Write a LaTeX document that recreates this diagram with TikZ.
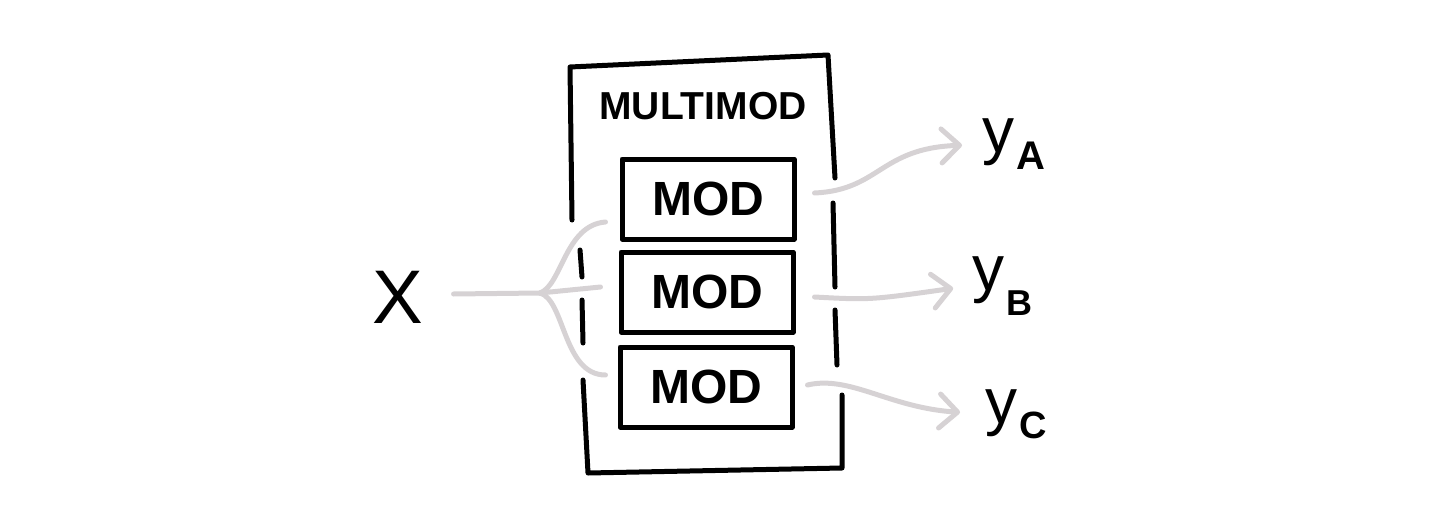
\documentclass[tikz,border=0pt]{standalone}
\usepackage{fontspec}
\setmainfont{Liberation Sans}
\usetikzlibrary{arrows.meta,calc}
\definecolor{wiregray}{RGB}{214,210,212}
\tikzset{
  ink/.style={line width=5pt, line cap=round, line join=round, draw=black},
  wire/.style={line width=5pt, line cap=round, draw=wiregray},
  warrow/.style={wire, -{Straight Barb[length=18pt,width=34pt,round]}},
  modbox/.style={ink, minimum width=172pt, minimum height=80pt, inner sep=0pt,
    font=\bfseries\fontsize{48}{48}\selectfont},
  ylabel/.style={anchor=base west, inner sep=0pt}
}
\begin{document}
\begin{tikzpicture}[x=1pt,y=-1pt]
\useasboundingbox (0,0) rectangle (1442,524);
% outer MULTIMOD box (broken sides)
\draw[ink] (572,220) -- (570,67) -- (828,55) -- (835,178);
\draw[ink] (580,250) -- (582,277);
\draw[ink] (582,300) -- (583,343);
\draw[ink] (583,380) -- (588,473) -- (842,468) -- (842,395);
\draw[ink] (833,203) -- (835,287);
\draw[ink] (835,310) -- (837,365);
\node[inner sep=0pt, font=\bfseries\fontsize{39}{39}\selectfont] (title) at (703,106) {MULTIMOD};
% inner modules
\node[modbox] (b1) at (708,199) {MOD};
\node[modbox] (b2) at (707,292) {MOD};
\node[modbox] (b3) at (706,387) {MOD};
% input
\node[inner sep=0pt, font=\fontsize{76}{76}\selectfont] (X) at (398,297) {X};
\coordinate (fork) at (540,293);
\draw[wire] ($(X.east)+(30,-3)$) -- (fork);
\draw[wire] (fork) .. controls (562,285) and (565,225) .. ($(b1.west)+(-14,23)$);
\draw[wire] (fork) -- ($(b2.west)+(-18,-5)$);
\draw[wire] (fork) .. controls (565,300) and (563,375) .. ($(b3.west)+(-12,-12)$);
% outputs
\node[ylabel] (ya) at (982,153) {\fontsize{64}{64}\selectfont y\kern2pt\raisebox{-17pt}{\bfseries\fontsize{40}{40}\selectfont A}};
\node[ylabel] (yb) at (972,290) {\fontsize{64}{64}\selectfont y\kern2pt\raisebox{-25pt}{\bfseries\fontsize{36}{36}\selectfont B}};
\node[ylabel] (yc) at (985,423) {\fontsize{64}{64}\selectfont y\kern2pt\raisebox{-15pt}{\bfseries\fontsize{38}{38}\selectfont C}};
\draw[warrow, shorten >=20pt] ($(b1.east)+(18,-6)$) .. controls (880,190) and (880,148) .. (ya.west);
\draw[warrow, shorten >=19pt] ($(b2.east)+(19,5)$) .. controls (870,300) .. (yb.west);
\draw[warrow, shorten >=25pt] ($(b3.east)+(13,-2)$) .. controls (850,375) and (890,408) .. (yc.west);
\end{tikzpicture}
\end{document}
